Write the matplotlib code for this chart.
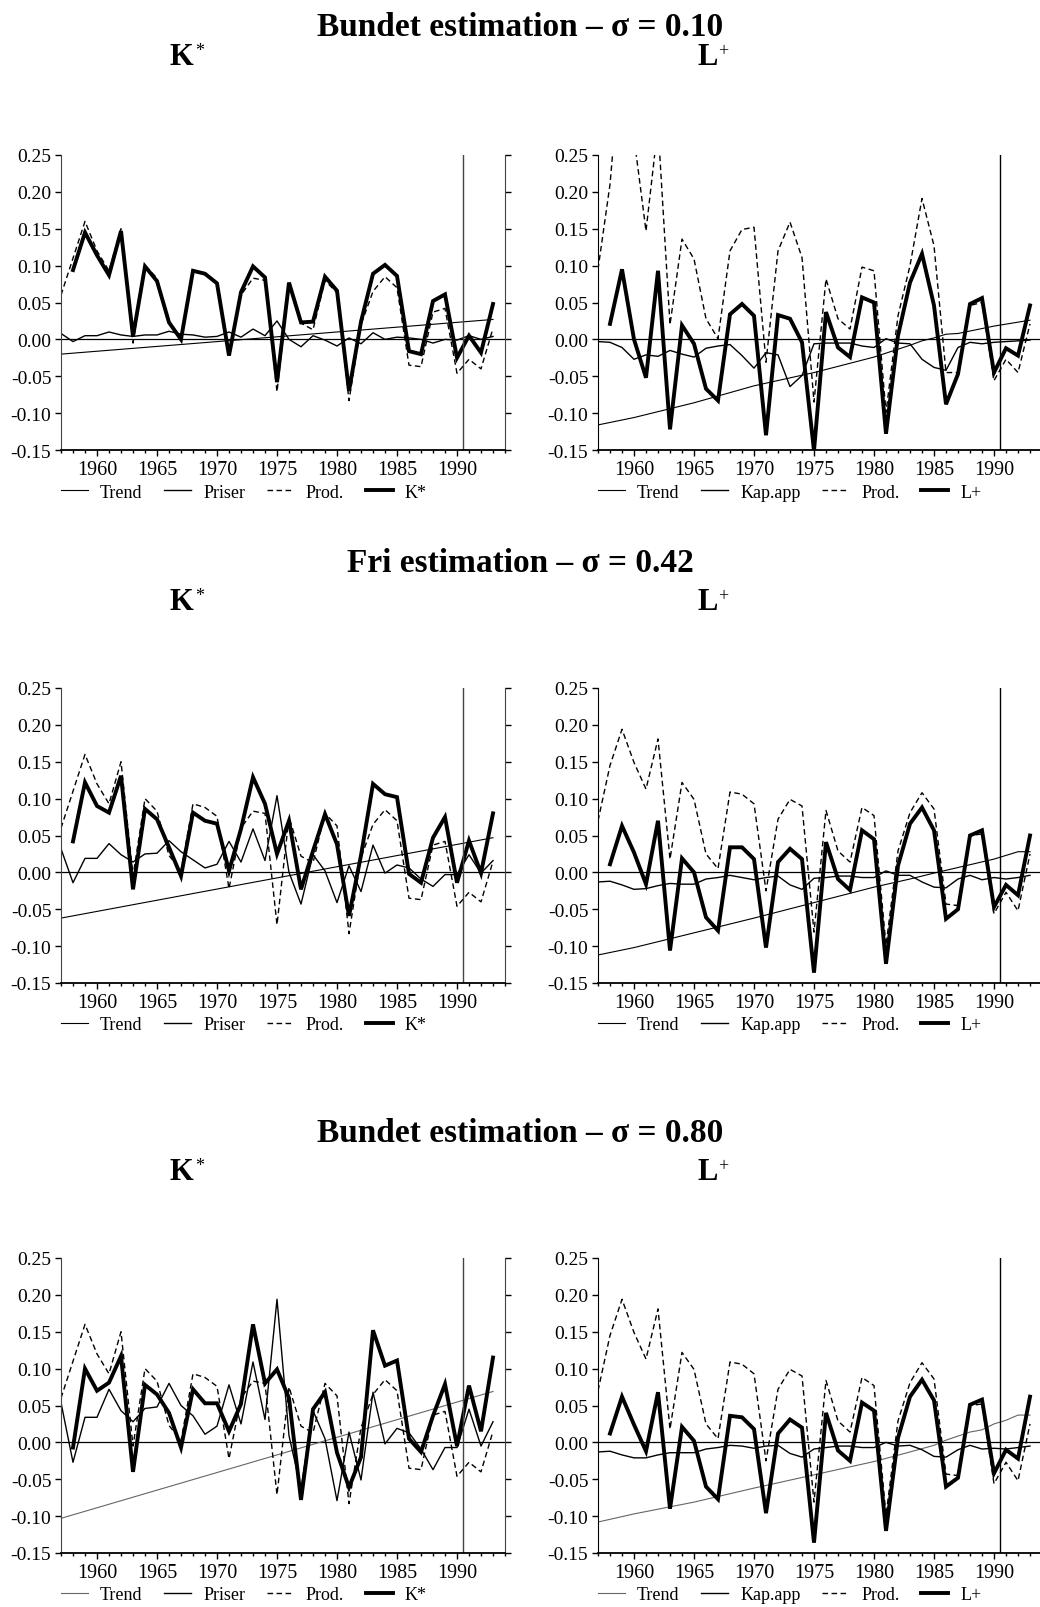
import numpy as np
import matplotlib
matplotlib.use("Agg")
import matplotlib.pyplot as plt
from matplotlib.text import Annotation
from matplotlib.ticker import MultipleLocator, FormatStrFormatter

plt.rcParams['font.family'] = ['Liberation Serif', 'DejaVu Serif']
plt.rcParams['axes.unicode_minus'] = False

years = np.arange(1957, 1994)      # Priser / Kap.app / Prod.
years_main = np.arange(1958, 1994) # K* / L+

row_titles = ["Bundet estimation \u2013 \u03c3 = 0.10",
              "Fri estimation \u2013 \u03c3 = 0.42",
              "Bundet estimation \u2013 \u03c3 = 0.80"]

# ---- Prod. (same in several panels)
prod_k = [0.060, 0.110, 0.160, 0.120, 0.093, 0.150, -0.005, 0.100, 0.083, 0.023,
          0.002, 0.093, 0.088, 0.076, -0.022, 0.060, 0.083, 0.080, -0.071, 0.075,
          0.022, 0.013, 0.080, 0.063, -0.083, 0.020, 0.065, 0.085, 0.070, -0.035,
          -0.037, 0.037, 0.042, -0.046, -0.027, -0.040, 0.015]
prod_l1 = [0.095, 0.21, 0.40, 0.274, 0.147, 0.29, 0.020, 0.136, 0.109, 0.028,
           0.001, 0.120, 0.149, 0.152, -0.031, 0.120, 0.159, 0.111, -0.085, 0.082,
           0.028, 0.014, 0.098, 0.093, -0.099, 0.032, 0.100, 0.191, 0.127, -0.045,
           -0.045, 0.046, 0.050, -0.056, -0.027, -0.045, 0.021]
prod_l = [0.070, 0.145, 0.194, 0.149, 0.113, 0.181, 0.018, 0.122, 0.099, 0.025,
          0.005, 0.109, 0.106, 0.093, -0.025, 0.072, 0.099, 0.090, -0.081, 0.084,
          0.029, 0.014, 0.088, 0.077, -0.099, 0.029, 0.081, 0.108, 0.086, -0.043,
          -0.045, 0.050, 0.052, -0.056, -0.027, -0.052, 0.025]

# ---- row 1, K*
trend1_x = [1957, 1993]
trend1_y = [-0.020, 0.027]
priser1 = [0.008, -0.003, 0.005, 0.005, 0.010, 0.006, 0.004, 0.006, 0.006, 0.011,
           0.007, 0.006, 0.003, 0.004, 0.010, 0.003, 0.014, 0.005, 0.025, 0.000,
           -0.010, 0.005, -0.001, -0.009, 0.002, -0.006, 0.009, 0.000, 0.003, 0.002,
           0.000, -0.005, 0.000, -0.001, 0.005, 0.000, 0.004]
kstar1 = [0.094, 0.145, 0.114, 0.087, 0.147, 0.004, 0.099, 0.079, 0.023, 0.000,
          0.093, 0.089, 0.076, -0.022, 0.064, 0.099, 0.084, -0.058, 0.077, 0.023,
          0.024, 0.085, 0.066, -0.070, 0.024, 0.089, 0.101, 0.086, -0.016, -0.020,
          0.052, 0.061, -0.025, 0.005, -0.018, 0.048]

# ---- row 1, L+
trend2_x = [1957, 1960, 1965, 1970, 1975, 1980, 1983, 1984, 1985, 1986, 1987, 1990, 1993]
trend2_y = [-0.116, -0.106, -0.086, -0.063, -0.045, -0.024, -0.008, -0.002, 0.002,
            0.007, 0.008, 0.018, 0.026]
kap2 = [-0.003, -0.004, -0.011, -0.027, -0.021, -0.023, -0.015, -0.020, -0.024, -0.012,
        -0.009, -0.007, -0.022, -0.039, -0.018, -0.021, -0.064, -0.049, -0.006, -0.005,
        -0.005, -0.005, -0.009, -0.011, 0.001, -0.005, -0.006, -0.027, -0.038, -0.042,
        -0.011, -0.004, -0.006, -0.004, -0.003, -0.002, -0.001]
lplus2 = [0.021, 0.095, 0.000, -0.052, 0.093, -0.122, 0.019, -0.006, -0.067, -0.083,
          0.034, 0.048, 0.032, -0.130, 0.033, 0.028, -0.004, -0.151, 0.037, -0.011,
          -0.024, 0.057, 0.050, -0.128, 0.005, 0.077, 0.116, 0.046, -0.088, -0.047,
          0.048, 0.056, -0.045, -0.012, -0.022, 0.046]

# ---- row 2, K*
trend3_x = [1957, 1993]
trend3_y = [-0.062, 0.047]
priser3 = [0.032, -0.014, 0.019, 0.019, 0.039, 0.024, 0.014, 0.025, 0.026, 0.043,
           0.028, 0.017, 0.006, 0.011, 0.042, 0.014, 0.059, 0.016, 0.104, 0.000,
           -0.043, 0.024, 0.002, -0.041, 0.009, -0.026, 0.037, -0.001, 0.010, 0.006,
           -0.009, -0.019, -0.003, -0.003, 0.024, -0.001, 0.016]
kstar3 = [0.042, 0.122, 0.090, 0.081, 0.131, -0.023, 0.086, 0.072, 0.034, -0.005,
          0.081, 0.070, 0.066, 0.002, 0.059, 0.129, 0.093, 0.025, 0.070, -0.023,
          0.029, 0.079, 0.038, -0.059, 0.023, 0.120, 0.106, 0.102, -0.002, -0.014,
          0.047, 0.075, -0.014, 0.043, -0.001, 0.080]

# ---- row 2, L+
trend4_x = [1957, 1960, 1965, 1970, 1975, 1980, 1983, 1985, 1990, 1992, 1993]
trend4_y = [-0.112, -0.102, -0.082, -0.062, -0.041, -0.020, -0.009, -0.001, 0.018,
            0.028, 0.028]
kap4 = [-0.013, -0.012, -0.017, -0.023, -0.022, -0.018, -0.015, -0.016, -0.016, -0.009,
        -0.007, -0.004, -0.007, -0.010, -0.007, -0.005, -0.017, -0.023, -0.008, -0.007,
        -0.005, -0.005, -0.007, -0.007, 0.002, -0.004, -0.004, -0.013, -0.020, -0.021,
        -0.009, -0.004, -0.010, -0.007, -0.009, -0.007, -0.004]
lplus4 = [0.011, 0.063, 0.027, -0.016, 0.070, -0.106, 0.019, 0.000, -0.061, -0.079,
          0.034, 0.034, 0.018, -0.102, 0.014, 0.032, 0.018, -0.136, 0.041, -0.009,
          -0.024, 0.057, 0.045, -0.124, 0.009, 0.066, 0.088, 0.057, -0.063, -0.050,
          0.050, 0.057, -0.047, -0.017, -0.031, 0.050]

# ---- row 3, K*
trend5_x = [1957, 1993]
trend5_y = [-0.103, 0.069]
priser5 = [0.054, -0.027, 0.034, 0.034, 0.072, 0.043, 0.028, 0.046, 0.048, 0.080,
           0.050, 0.036, 0.011, 0.022, 0.078, 0.025, 0.109, 0.031, 0.194, 0.009,
           -0.063, 0.043, 0.005, -0.079, 0.014, -0.051, 0.068, -0.002, 0.019, 0.013,
           -0.009, -0.037, -0.007, -0.007, 0.045, -0.005, 0.028]
kstar5 = [-0.007, 0.100, 0.070, 0.081, 0.117, -0.040, 0.078, 0.065, 0.040, -0.007,
          0.072, 0.053, 0.053, 0.015, 0.052, 0.160, 0.080, 0.099, 0.060, -0.078,
          0.045, 0.068, -0.014, -0.061, -0.020, 0.152, 0.104, 0.111, 0.005, -0.013,
          0.036, 0.079, -0.005, 0.077, 0.015, 0.115]

# ---- row 3, L+
trend6_x = [1957, 1960, 1965, 1970, 1975, 1980, 1983, 1985, 1986, 1988, 1989, 1990,
            1991, 1992, 1993]
trend6_y = [-0.108, -0.097, -0.081, -0.062, -0.044, -0.026, -0.013, -0.004, 0.003,
            0.014, 0.017, 0.025, 0.030, 0.037, 0.037]
kap6 = [-0.013, -0.012, -0.017, -0.021, -0.021, -0.017, -0.014, -0.014, -0.014, -0.009,
        -0.007, -0.004, -0.005, -0.008, -0.005, -0.004, -0.015, -0.020, -0.009, -0.007,
        -0.005, -0.005, -0.007, -0.007, 0.000, -0.005, -0.004, -0.010, -0.019, -0.020,
        -0.010, -0.004, -0.009, -0.008, -0.009, -0.007, -0.005]
lplus6 = [0.012, 0.062, 0.024, -0.012, 0.068, -0.090, 0.021, 0.002, -0.060, -0.077,
          0.036, 0.034, 0.018, -0.096, 0.012, 0.031, 0.020, -0.136, 0.040, -0.011,
          -0.025, 0.054, 0.043, -0.120, 0.006, 0.062, 0.085, 0.057, -0.060, -0.048,
          0.051, 0.058, -0.042, -0.010, -0.022, 0.062]

W, H = 1040, 1608
fig = plt.figure(figsize=(W / 100, H / 100), dpi=100)

ax_top = [156, 689, 1259]   # pixel y of the 0.25 line in each row
ax_left = [61, 598]
ax_w, ax_h = 444, 295
title_off = [120, 117, 117]
label_off = [91, 79, 79]


def panel(ax, tx, ty, mid, mid_lab, prod, main, main_lab, trend_col, edge_col):
    ax.plot(tx, ty, color=trend_col, lw=0.8, label="Trend")
    ax.plot(years, mid, color="black", lw=1.0, label=mid_lab)
    ax.plot(years, prod, color="black", lw=1.0, ls=(0, (4, 2.5)), label="Prod.")
    ax.plot(years_main, main, color="black", lw=2.8, label=main_lab,
            solid_joinstyle="miter")
    ax.axhline(0, color="black", lw=0.9, zorder=1)
    ax.axvline(1990.5, color=edge_col, lw=1.0)
    ax.set_xlim(1957, 1994)
    ax.set_ylim(-0.15, 0.25)
    ax.yaxis.set_major_locator(MultipleLocator(0.05))
    ax.yaxis.set_major_formatter(FormatStrFormatter("%.2f"))
    ax.set_xticks([1960, 1965, 1970, 1975, 1980, 1985, 1990])
    ax.xaxis.set_minor_locator(MultipleLocator(1))
    ax.spines["top"].set_visible(False)
    for s in ["left", "right"]:
        ax.spines[s].set_color(edge_col)
    ax.spines["bottom"].set_linewidth(1.3)
    ax.tick_params(axis="both", which="both", direction="out")
    ax.tick_params(axis="y", right=True, length=4, width=1, labelsize=14, pad=3)
    ax.tick_params(axis="x", which="major", length=4.5, width=1, pad=3, labelsize=14.5)
    ax.tick_params(axis="x", which="minor", length=2.5, width=1)
    ax.legend(loc="center left", bbox_to_anchor=(0, -42 / ax_h), ncol=4,
              frameon=False, fontsize=13, handlelength=1.5, handletextpad=0.66,
              columnspacing=1.2, borderpad=0, borderaxespad=0)


def head_label(x, y, letter, mark):
    t = fig.text(x, y, letter, ha="left", va="baseline", fontsize=22,
                 fontweight="bold")
    fig.add_artist(Annotation(mark, xy=(1, 1), xycoords=t, xytext=(0.8, 0),
                              textcoords="offset points", ha="left", va="top",
                              fontsize=13))


rows = [
    [(trend1_x, trend1_y, priser1, "Priser", prod_k, kstar1, "K*"),
     (trend2_x, trend2_y, kap2, "Kap.app", prod_l1, lplus2, "L+")],
    [(trend3_x, trend3_y, priser3, "Priser", prod_k, kstar3, "K*"),
     (trend4_x, trend4_y, kap4, "Kap.app", prod_l, lplus4, "L+")],
    [(trend5_x, trend5_y, priser5, "Priser", prod_k, kstar5, "K*"),
     (trend6_x, trend6_y, kap6, "Kap.app", prod_l, lplus6, "L+")],
]

for r in range(3):
    top = ax_top[r]
    for c in range(2):
        ax = fig.add_axes([ax_left[c] / W, 1 - (top + ax_h) / H, ax_w / W, ax_h / H])
        tx, ty, mid, mid_lab, prod, main, main_lab = rows[r][c]
        trend_col = "#666666" if r == 2 else "black"
        edge_col = "#444444" if c == 0 else "black"
        panel(ax, tx, ty, mid, mid_lab, prod, main, main_lab, trend_col, edge_col)
    fig.text(0.5, 1 - (top - title_off[r]) / H, row_titles[r], ha="center",
             va="baseline", fontsize=24, fontweight="bold")
    head_label(170 / W, 1 - (top - label_off[r]) / H, "K", "*")
    head_label(697 / W, 1 - (top - label_off[r]) / H, "L", "+")

fig.savefig("out.png", dpi=100)
